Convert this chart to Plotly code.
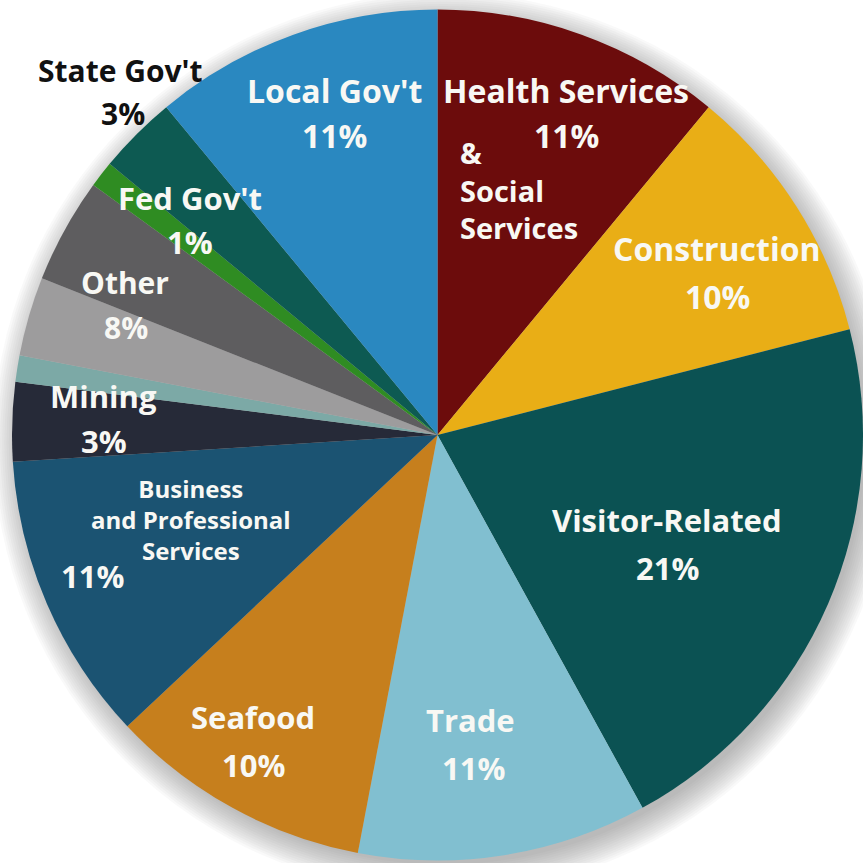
import plotly.graph_objects as go

# Employment share by sector (percent), clockwise from 12 o'clock
sectors = [
    "Health Services & Social Services", "Construction", "Visitor-Related", "Trade",
    "Seafood", "Business and Professional Services", "Mining",
    "Other (a)", "Other (b)", "Other (c)",
    "Fed Gov't", "State Gov't", "Local Gov't",
]
shares = [11, 10, 21, 11, 10, 11, 3, 1, 3, 4, 1, 3, 11]
colors = [
    "#6c0c0c", "#e9ae16", "#0b5253", "#81bfd0",
    "#c67f1d", "#1b5372", "#262a38",
    "#7ca9a6", "#9d9c9d", "#5e5d5f",
    "#2f8c22", "#0d5a52", "#2a88c0",
]

# Label blocks: (text, x px, y px, size, colour, anchor, align)
WHITE = "#f8f8f4"
BLACK = "#111111"
labels = [
    ("State Gov't", 120, 70, 30, BLACK, "center", "center"),
    ("3%", 123, 113, 30, BLACK, "center", "center"),
    ("Local Gov't", 334, 90, 32, WHITE, "center", "center"),
    ("11%", 334, 136, 32, WHITE, "center", "center"),
    ("Health Services", 566, 90, 32, WHITE, "center", "center"),
    ("11%", 566, 136, 32, WHITE, "center", "center"),
    ("&<br>Social<br>Services", 458, 190, 29, WHITE, "left", "left"),
    ("Construction", 717, 248, 32, WHITE, "center", "center"),
    ("10%", 717, 297, 32, WHITE, "center", "center"),
    ("Visitor-Related", 667, 520, 31, WHITE, "center", "center"),
    ("21%", 667, 568, 31, WHITE, "center", "center"),
    ("Trade", 471, 720, 31, WHITE, "center", "center"),
    ("11%", 473, 768, 31, WHITE, "center", "center"),
    ("Seafood", 253, 717, 31, WHITE, "center", "center"),
    ("10%", 253, 765, 31, WHITE, "center", "center"),
    ("Business<br>and Professional<br>Services", 191, 519, 24, WHITE, "center", "center"),
    ("11%", 92, 576, 31, WHITE, "center", "center"),
    ("Mining", 103, 396, 31, WHITE, "center", "center"),
    ("3%", 104, 441, 31, WHITE, "center", "center"),
    ("Other", 125, 282, 30, WHITE, "center", "center"),
    ("8%", 126, 327, 30, WHITE, "center", "center"),
    ("Fed Gov't", 190, 198, 31, WHITE, "center", "center"),
    ("1%", 190, 242, 31, WHITE, "center", "center"),
]

W = H = 863
ML, MT, MR, MB = 12, 7, 0, 0
PW, PH = W - ML - MR, H - MT - MB


def px(x):
    return (x - ML) / PW


def py(y):
    return 1 - (y - MT) / PH


fig = go.Figure(
    go.Pie(
        labels=sectors,
        values=shares,
        marker=dict(colors=colors, line=dict(width=0)),
        sort=False,
        direction="clockwise",
        rotation=0,
        textinfo="none",
        hoverinfo="label+percent",
        showlegend=False,
    )
)

# Soft drop shadow under the disc
cx, cy, r = ML + PW / 2 + 6, MT + PH / 2 + 8, min(PW, PH) / 2
shapes = []
for i in range(14):
    rr = r - 4 + i * 2.2
    shapes.append(dict(
        type="circle", xref="paper", yref="paper",
        x0=px(cx - rr), x1=px(cx + rr), y0=py(cy + rr), y1=py(cy - rr),
        fillcolor="#7a7a7a", opacity=0.045, line=dict(width=0), layer="below",
    ))

annotations = [
    dict(
        text=t, x=px(x), y=py(y), xref="paper", yref="paper",
        xanchor=anc, yanchor="middle", align=al, showarrow=False,
        font=dict(family="Open Sans", size=s, color=c, weight=700),
    )
    for t, x, y, s, c, anc, al in labels
]

fig.update_layout(
    width=W, height=H,
    margin=dict(l=ML, r=MR, t=MT, b=MB),
    paper_bgcolor="white", plot_bgcolor="white",
    shapes=shapes, annotations=annotations,
)

fig.write_html("out.html")
